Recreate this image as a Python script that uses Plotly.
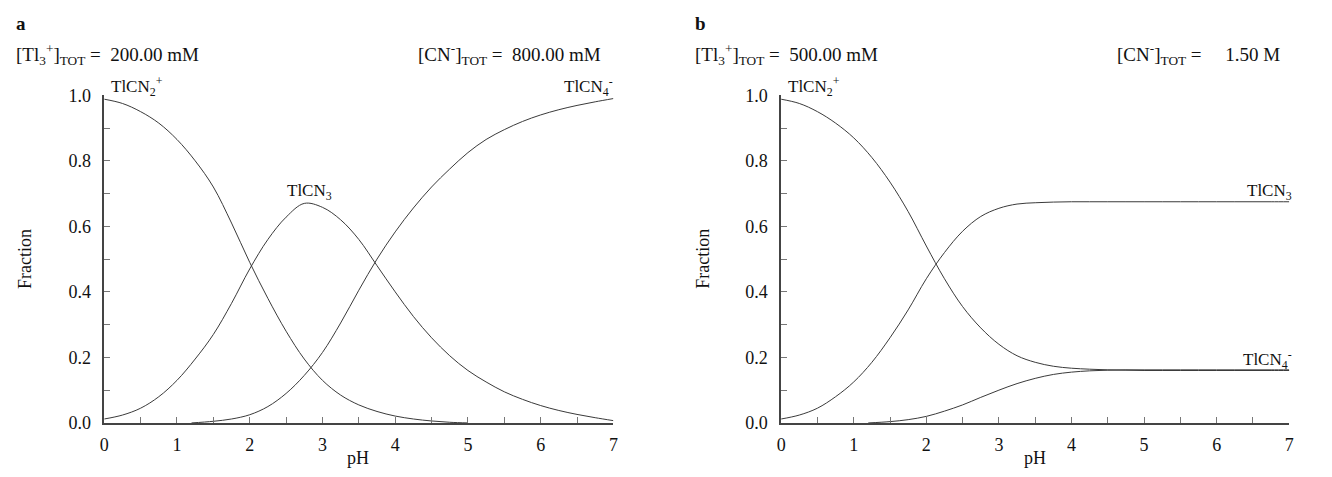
import plotly.graph_objects as go

# pH grid shared by both panels
ph = [0, 0.25, 0.5, 0.75, 1.0, 1.25, 1.5, 1.75, 2.0, 2.25, 2.5, 2.75, 3.0, 3.25,
      3.5, 3.75, 4.0, 4.25, 4.5, 4.75, 5.0, 5.25, 5.5, 5.75, 6.0, 6.25, 6.5, 6.75, 7.0]

# Panel a: [Tl]tot = 200 mM, [CN]tot = 800 mM
a_ph_tlcn2 = ph[:21]
a_tlcn2 = [0.988, 0.975, 0.95, 0.915, 0.865, 0.80, 0.72, 0.61, 0.49, 0.38, 0.28,
           0.195, 0.13, 0.085, 0.055, 0.035, 0.021, 0.012, 0.006, 0.002, 0.0]
a_tlcn3 = [0.012, 0.024, 0.045, 0.08, 0.13, 0.195, 0.27, 0.365, 0.47, 0.56, 0.628,
           0.67, 0.658, 0.62, 0.56, 0.48, 0.40, 0.325, 0.26, 0.205, 0.16, 0.125,
           0.095, 0.072, 0.053, 0.038, 0.026, 0.016, 0.007]
a_ph_tlcn4 = [1.2, 1.5, 1.75, 2.0, 2.25, 2.5, 2.75, 3.0, 3.25, 3.5, 3.75, 4.0, 4.25,
              4.5, 4.75, 5.0, 5.25, 5.5, 5.75, 6.0, 6.25, 6.5, 6.75, 7.0]
a_tlcn4 = [0.0, 0.005, 0.012, 0.025, 0.05, 0.09, 0.145, 0.215, 0.305, 0.405, 0.50,
           0.583, 0.656, 0.72, 0.775, 0.825, 0.865, 0.895, 0.92, 0.94, 0.956, 0.969,
           0.98, 0.99]

# Panel b: [Tl]tot = 500 mM, [CN]tot = 1.50 M
b_tlcn2 = [0.988, 0.975, 0.95, 0.915, 0.87, 0.81, 0.735, 0.645, 0.54, 0.44, 0.355,
           0.29, 0.24, 0.205, 0.185, 0.173, 0.167, 0.164, 0.162, 0.161, 0.16, 0.16,
           0.16, 0.16, 0.16, 0.16, 0.16, 0.16, 0.16]
b_tlcn3 = [0.012, 0.024, 0.045, 0.08, 0.125, 0.185, 0.26, 0.345, 0.44, 0.52, 0.585,
           0.63, 0.655, 0.668, 0.672, 0.674, 0.675, 0.675, 0.675, 0.675, 0.675,
           0.675, 0.675, 0.675, 0.675, 0.675, 0.675, 0.675, 0.675]
b_ph_tlcn4 = a_ph_tlcn4
b_tlcn4 = [0.0, 0.004, 0.01, 0.02, 0.036, 0.055, 0.078, 0.10, 0.12, 0.136, 0.148,
           0.155, 0.159, 0.161, 0.162, 0.162, 0.162, 0.162, 0.162, 0.162, 0.162,
           0.162, 0.162, 0.162]

x_ticks = [0, 1, 2, 3, 4, 5, 6, 7]
y_ticks = [0.0, 0.2, 0.4, 0.6, 0.8, 1.0]
y_tick_text = ["0.0", "0.2", "0.4", "0.6", "0.8", "1.0"]

W, H = 1332, 477
FONT = "Liberation Serif, Times New Roman, serif"
LINE = "#3a3a3a"
TXT = "#111"

fig = go.Figure()

def curve(x, y, xa, ya):
    fig.add_trace(go.Scatter(x=x, y=y, mode="lines", xaxis=xa, yaxis=ya,
                             line=dict(color=LINE, width=1, shape="spline", smoothing=1.0),
                             showlegend=False, hoverinfo="skip"))

curve(a_ph_tlcn2, a_tlcn2, "x", "y")
curve(ph, a_tlcn3, "x", "y")
curve(a_ph_tlcn4, a_tlcn4, "x", "y")
curve(ph, b_tlcn2, "x2", "y2")
curve(ph, b_tlcn3, "x2", "y2")
curve(b_ph_tlcn4, b_tlcn4, "x2", "y2")

def xaxis(domain, anchor):
    return dict(domain=domain, anchor=anchor, range=[0, 7], tickvals=x_ticks,
                ticks="inside", ticklen=6, tickcolor="#777", tickwidth=1,
                ticklabelstandoff=5,
                minor=dict(ticks="inside", ticklen=6, dtick=0.5, tick0=0,
                           tickcolor="#777", tickwidth=1),
                showline=True, linecolor="#444", linewidth=1.5, mirror=False,
                showgrid=False, zeroline=False,
                tickfont=dict(family=FONT, size=18, color=TXT))

def yaxis(domain, anchor):
    return dict(domain=domain, anchor=anchor, range=[0, 1], tickvals=y_ticks,
                ticktext=y_tick_text,
                ticks="inside", ticklen=6, tickcolor="#777", tickwidth=1,
                ticklabelstandoff=8,
                minor=dict(ticks="inside", ticklen=6, dtick=0.1, tick0=0,
                           tickcolor="#777", tickwidth=1),
                showline=True, linecolor="#444", linewidth=1.5, mirror=False,
                showgrid=False, zeroline=False,
                tickfont=dict(family=FONT, size=18, color=TXT))

ybot, ytop = 1 - 431 / H, 1 - 89 / H
fig.update_layout(
    width=W, height=H,
    margin=dict(l=0, r=0, t=0, b=0),
    paper_bgcolor="white", plot_bgcolor="white",
    xaxis=xaxis([100 / W, 613 / W], "y"),
    yaxis=yaxis([ybot, ytop], "x"),
    xaxis2=xaxis([782 / W, 1294 / W], "y2"),
    yaxis2=yaxis([ybot, ytop], "x2"),
)

def note(text, x, y, xanchor="left", size=18, angle=0, bold=False):
    fig.add_annotation(text=f"<b>{text}</b>" if bold else text,
                       x=x / W, y=1 - y / H, xref="paper", yref="paper",
                       xanchor=xanchor, yanchor="middle", showarrow=False,
                       textangle=angle, borderpad=0,
                       font=dict(family=FONT, size=size, color=TXT))

NB = "\u00a0"
# Panel letters and concentration headers
note("a", 10, 14, size=19, bold=True)
note("b", 694, 14, size=19, bold=True)
note("[Tl<sub>3</sub><sup>+</sup>]<sub>TOT</sub> = " + NB + "200.00 mM", 10, 46, size=19)
note("[CN<sup>-</sup>]<sub>TOT</sub> = " + NB + "800.00 mM", 602, 46, xanchor="right", size=19)
note("[Tl<sub>3</sub><sup>+</sup>]<sub>TOT</sub> = " + NB + "500.00 mM", 694, 46, size=19)
note("[CN<sup>-</sup>]<sub>TOT</sub> = " + NB * 4 + "1.50 M", 1286, 46, xanchor="right", size=19)

# Species labels
note("TlCN<sub>2</sub><sup>+</sup>", 106, 80, size=17)
note("TlCN<sub>3</sub>", 307, 190, xanchor="center", size=17)
note("TlCN<sub>4</sub><sup>-</sup>", 614, 80, xanchor="right", size=17)
note("TlCN<sub>2</sub><sup>+</sup>", 788, 80, size=17)
note("TlCN<sub>3</sub>", 1298, 190, xanchor="right", size=17)
note("TlCN<sub>4</sub><sup>-</sup>", 1298, 365, xanchor="right", size=17)

# Axis titles
note("Fraction", 20, 260, xanchor="center", size=18, angle=-90)
note("pH", 356, 468, xanchor="center", size=18)
note("Fraction", 703, 260, xanchor="center", size=18, angle=-90)
note("pH", 1038, 468, xanchor="center", size=18)

fig.write_html("out.html")
